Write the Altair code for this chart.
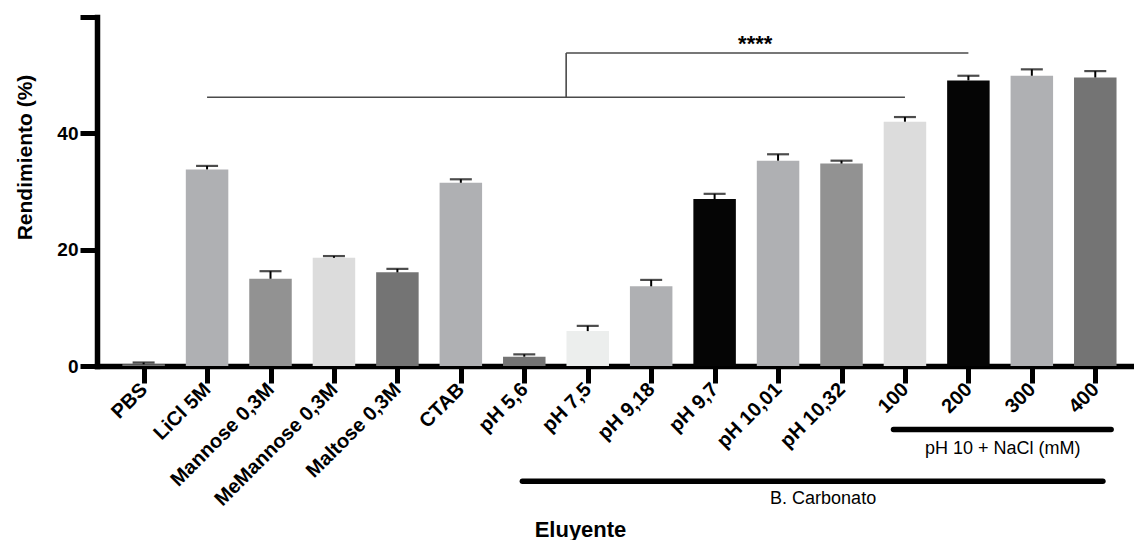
import altair as alt
import pandas as pd

# Eluent conditions, mean yield (%) and SD
categories = ["PBS", "LiCl 5M", "Mannose 0,3M", "MeMannose 0,3M", "Maltose 0,3M",
              "CTAB", "pH 5,6", "pH 7,5", "pH 9,18", "pH 9,7", "pH 10,01",
              "pH 10,32", "100", "200", "300", "400"]
yields = [0.3, 33.8, 15.0, 18.6, 16.1, 31.5, 1.6, 6.0, 13.7, 28.7, 35.3, 34.8,
          42.0, 49.1, 49.9, 49.6]
errors = [0.3, 0.6, 1.3, 0.3, 0.6, 0.6, 0.4, 0.9, 1.1, 0.9, 1.1, 0.5,
          0.8, 0.8, 1.1, 1.1]
bar_colors = ["#747474", "#afb0b3", "#929292", "#dcdcdc", "#747474", "#afb0b3",
              "#747474", "#eceeed", "#afb0b3", "#050505", "#afb0b3", "#929292",
              "#dcdcdc", "#050505", "#afb0b3", "#747474"]

# Significance bracket (x in category index units, y in %)
bracket_x = [1, 6.66, 6.66]
bracket_x2 = [12, 6.66, 13]
bracket_y = [46.2, 46.2, 53.8]
bracket_y2 = [46.2, 53.8, 53.8]
star_label = ["****"]
star_x = [9.64]
star_y = [54.1]

# Group bars drawn under the category labels
group_names = ["pH 10 + NaCl (mM)", "B. Carbonato"]
group_x = [11.82, 5.97]
group_x2 = [15.25, 15.12]
group_line_y = [-10.9, -19.8]
group_text_x = [13.54, 10.71]
group_text_y = [-15.2, -23.8]

FONT = "Liberation Sans"

bars_df = pd.DataFrame({
    "idx": list(range(len(categories))),
    "eluent": categories,
    "value": yields,
    "err": errors,
    "color": bar_colors,
})
bars_df["top"] = bars_df["value"] + bars_df["err"]

bracket_df = pd.DataFrame({"x": bracket_x, "x2": bracket_x2, "y": bracket_y, "y2": bracket_y2})
star_df = pd.DataFrame({"label": star_label, "x": star_x, "y": star_y})
group_df = pd.DataFrame({"name": group_names, "x": group_x, "x2": group_x2,
                         "ly": group_line_y, "tx": group_text_x, "ty": group_text_y})

x_scale = alt.Scale(domain=[-0.656, 15.5], nice=False, zero=False)
y_scale = alt.Scale(domain=[0, 60], nice=False, zero=True)

label_expr = "[" + ",".join("'" + c + "'" for c in categories) + "][datum.value]"

x_axis = alt.Axis(
    values=list(range(len(categories))), labelExpr=label_expr,
    labelAngle=-45, labelAlign="right", labelBaseline="middle",
    labelFontSize=20, labelFontWeight="bold", labelColor="black", labelFont=FONT,
    labelPadding=3, labelOverlap=False, labelFlush=False, labelBound=False,
    tickSize=17, tickWidth=5, tickColor="black",
    domainWidth=5.5, domainColor="black", domainCap="square", grid=False,
    title="Eluyente", titleFont=FONT, titleFontSize=22, titleFontWeight="bold",
    titleColor="black", titleX=483, titleY=170, titleAlign="center",
    titleBaseline="alphabetic",
)
y_axis = alt.Axis(
    values=[0, 20, 40, 60], labelExpr="datum.value == 60 ? '' : datum.label",
    labelFontSize=19, labelFontWeight="bold", labelColor="black", labelFont=FONT,
    labelPadding=2, tickSize=17, tickWidth=5, tickColor="black",
    domainWidth=5.5, domainColor="black", domainCap="square", grid=False,
    title="Rendimiento (%)", titleFont=FONT, titleFontSize=21, titleFontWeight="bold",
    titleColor="black", titleX=-72, titleY=140, titleAngle=-90,
    titleAlign="center", titleBaseline="middle",
)


def X(field):
    return alt.X(field, type="quantitative", scale=x_scale, axis=x_axis)


def Y(field):
    return alt.Y(field, type="quantitative", scale=y_scale, axis=y_axis)


bars = alt.Chart(bars_df).mark_bar(size=42.5).encode(
    x=X("idx"), y=Y("value"), color=alt.Color("color:N", scale=None)
)
stems = alt.Chart(bars_df).mark_rule(color="black", strokeWidth=2).encode(
    x=X("idx"), y=Y("value"), y2="top"
)
caps = alt.Chart(bars_df).mark_tick(orient="horizontal", size=22, thickness=2.2,
                                    color="black").encode(x=X("idx"), y=Y("top"))

bracket = alt.Chart(bracket_df).mark_rule(color="#4a4a4a", strokeWidth=1.6).encode(
    x=X("x"), x2="x2", y=Y("y"), y2="y2"
)
stars = alt.Chart(star_df).mark_text(font=FONT, fontSize=22, fontWeight="bold",
                                     color="black", baseline="alphabetic",
                                     align="center").encode(
    x=X("x"), y=Y("y"), text="label:N"
)

group_lines = alt.Chart(group_df).mark_rule(color="black", strokeWidth=5.5,
                                            strokeCap="round").encode(
    x=X("x"), x2="x2", y=Y("ly")
)
group_text = alt.Chart(group_df).mark_text(font=FONT, fontSize=18, color="black",
                                           baseline="alphabetic", align="center").encode(
    x=X("tx"), y=Y("ty"), text="name:N"
)

chart = alt.layer(bars, stems, caps, bracket, stars, group_lines, group_text).properties(
    width=1035, height=349,
    autosize=alt.AutoSizeParams(type="none"),
    padding={"left": 97, "top": 17, "right": 2, "bottom": 174},
    background="white",
).configure_view(strokeWidth=0)

chart.save("out.html", embed_options={"renderer": "svg", "actions": False})
